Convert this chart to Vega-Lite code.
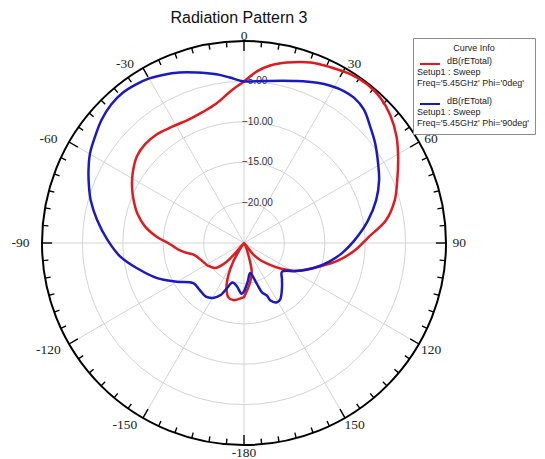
{
  "$schema": "https://vega.github.io/schema/vega-lite/v6.json",
  "width": 404,
  "height": 404,
  "autosize": {"type": "none"},
  "padding": {"left": 42, "top": 41, "right": 99, "bottom": 14},
  "background": "white",
  "config": {"view": {"stroke": null}, "font": "Liberation Sans"},
  "title": {
    "text": "Radiation Pattern 3",
    "frame": "group",
    "anchor": "middle",
    "offset": -10,
    "baseline": "alphabetic",
    "dx": -5,
    "font": "Liberation Sans",
    "fontSize": 16,
    "fontWeight": "normal",
    "color": "#111111"
  },
  "datasets": {
    "angles": [
      {"a": -180}, {"a": -150}, {"a": -120}, {"a": -90}, {"a": -60}, {"a": -30},
      {"a": 0}, {"a": 30}, {"a": 60}, {"a": 90}, {"a": 120}, {"a": 150}
    ],
    "rings": [{"db": -20}, {"db": -15}, {"db": -10}, {"db": -5}],
    "outer": [{"db": 0}],
    "ticks": [
      {"a": -175}, {"a": -170}, {"a": -165}, {"a": -160}, {"a": -155}, {"a": -150}, {"a": -145}, {"a": -140}, {"a": -135}, {"a": -130}, {"a": -125}, {"a": -120},
      {"a": -115}, {"a": -110}, {"a": -105}, {"a": -100}, {"a": -95}, {"a": -90}, {"a": -85}, {"a": -80}, {"a": -75}, {"a": -70}, {"a": -65}, {"a": -60},
      {"a": -55}, {"a": -50}, {"a": -45}, {"a": -40}, {"a": -35}, {"a": -30}, {"a": -25}, {"a": -20}, {"a": -15}, {"a": -10}, {"a": -5}, {"a": 0},
      {"a": 5}, {"a": 10}, {"a": 15}, {"a": 20}, {"a": 25}, {"a": 30}, {"a": 35}, {"a": 40}, {"a": 45}, {"a": 50}, {"a": 55}, {"a": 60},
      {"a": 65}, {"a": 70}, {"a": 75}, {"a": 80}, {"a": 85}, {"a": 90}, {"a": 95}, {"a": 100}, {"a": 105}, {"a": 110}, {"a": 115}, {"a": 120},
      {"a": 125}, {"a": 130}, {"a": 135}, {"a": 140}, {"a": 145}, {"a": 150}, {"a": 155}, {"a": 160}, {"a": 165}, {"a": 170}, {"a": 175}, {"a": 180}
    ],
    "curves": [
      {"cut": "p0", "a": -180, "db": -18.3}, {"cut": "p0", "a": -169, "db": -17.8}, {"cut": "p0", "a": -164, "db": -18.0},
      {"cut": "p0", "a": -159, "db": -18.95}, {"cut": "p0", "a": -154, "db": -20.6}, {"cut": "p0", "a": -150, "db": -22.3},
      {"cut": "p0", "a": -147, "db": -24.0}, {"cut": "p0", "a": -143, "db": -25.0}, {"cut": "p0", "a": -139, "db": -24.0},
      {"cut": "p0", "a": -137, "db": -21.8}, {"cut": "p0", "a": -131, "db": -20.3}, {"cut": "p0", "a": -125, "db": -19.9},
      {"cut": "p0", "a": -120.5, "db": -19.65}, {"cut": "p0", "a": -112, "db": -19.3}, {"cut": "p0", "a": -103, "db": -18.6},
      {"cut": "p0", "a": -99, "db": -17.6}, {"cut": "p0", "a": -96, "db": -16.9}, {"cut": "p0", "a": -93, "db": -16.3},
      {"cut": "p0", "a": -90, "db": -15.6}, {"cut": "p0", "a": -86, "db": -14.2}, {"cut": "p0", "a": -80.6, "db": -12.6},
      {"cut": "p0", "a": -74.5, "db": -11.3}, {"cut": "p0", "a": -68.8, "db": -10.35}, {"cut": "p0", "a": -63.4, "db": -9.5},
      {"cut": "p0", "a": -58, "db": -8.75}, {"cut": "p0", "a": -51, "db": -7.95}, {"cut": "p0", "a": -45, "db": -7.7},
      {"cut": "p0", "a": -39, "db": -7.75}, {"cut": "p0", "a": -31.4, "db": -8.1}, {"cut": "p0", "a": -23.7, "db": -8.25},
      {"cut": "p0", "a": -17.4, "db": -8.0}, {"cut": "p0", "a": -11.2, "db": -7.4}, {"cut": "p0", "a": -5.3, "db": -6.2},
      {"cut": "p0", "a": 0, "db": -5.0}, {"cut": "p0", "a": 4.3, "db": -3.7}, {"cut": "p0", "a": 8.4, "db": -2.8},
      {"cut": "p0", "a": 13.4, "db": -2.05}, {"cut": "p0", "a": 20.2, "db": -1.2}, {"cut": "p0", "a": 26.2, "db": -0.75},
      {"cut": "p0", "a": 32.2, "db": -0.3}, {"cut": "p0", "a": 37.8, "db": -0.15}, {"cut": "p0", "a": 43.2, "db": -0.35},
      {"cut": "p0", "a": 48.8, "db": -0.95}, {"cut": "p0", "a": 55.2, "db": -2.0}, {"cut": "p0", "a": 60.8, "db": -3.15},
      {"cut": "p0", "a": 67.7, "db": -4.5}, {"cut": "p0", "a": 74.1, "db": -5.6}, {"cut": "p0", "a": 80.9, "db": -7.2},
      {"cut": "p0", "a": 87.1, "db": -9.5}, {"cut": "p0", "a": 90, "db": -10.3}, {"cut": "p0", "a": 93.6, "db": -11.2},
      {"cut": "p0", "a": 100, "db": -13.0}, {"cut": "p0", "a": 107.3, "db": -15.2}, {"cut": "p0", "a": 117.7, "db": -17.6},
      {"cut": "p0", "a": 125, "db": -19.5}, {"cut": "p0", "a": 130, "db": -20.8}, {"cut": "p0", "a": 137, "db": -22.2},
      {"cut": "p0", "a": 141, "db": -23.2}, {"cut": "p0", "a": 147, "db": -25.0}, {"cut": "p0", "a": 153, "db": -24.6},
      {"cut": "p0", "a": 160, "db": -23.4}, {"cut": "p0", "a": 165, "db": -21.3}, {"cut": "p0", "a": 171, "db": -20.1},
      {"cut": "p0", "a": 180, "db": -18.3},
      {"cut": "p90", "a": -180, "db": -19.0}, {"cut": "p90", "a": -177.4, "db": -18.7}, {"cut": "p90", "a": -170.3, "db": -19.6},
      {"cut": "p90", "a": -163.8, "db": -19.9}, {"cut": "p90", "a": -159.1, "db": -18.95}, {"cut": "p90", "a": -155.9, "db": -17.95},
      {"cut": "p90", "a": -150.6, "db": -17.2}, {"cut": "p90", "a": -144.6, "db": -16.85}, {"cut": "p90", "a": -136.9, "db": -17.0},
      {"cut": "p90", "a": -128.5, "db": -17.0}, {"cut": "p90", "a": -119.9, "db": -15.4}, {"cut": "p90", "a": -112, "db": -13.4},
      {"cut": "p90", "a": -103.3, "db": -11.4}, {"cut": "p90", "a": -96.3, "db": -9.6}, {"cut": "p90", "a": -88.7, "db": -8.1},
      {"cut": "p90", "a": -81.1, "db": -6.6}, {"cut": "p90", "a": -74.4, "db": -5.3}, {"cut": "p90", "a": -70.1, "db": -4.6},
      {"cut": "p90", "a": -64.9, "db": -3.75}, {"cut": "p90", "a": -59.8, "db": -2.95}, {"cut": "p90", "a": -54.5, "db": -2.35},
      {"cut": "p90", "a": -49.2, "db": -1.7}, {"cut": "p90", "a": -43.8, "db": -1.25}, {"cut": "p90", "a": -38.9, "db": -1.1},
      {"cut": "p90", "a": -34.2, "db": -1.25}, {"cut": "p90", "a": -29.9, "db": -1.5}, {"cut": "p90", "a": -25.8, "db": -1.9},
      {"cut": "p90", "a": -20.7, "db": -2.45}, {"cut": "p90", "a": -15.6, "db": -3.1}, {"cut": "p90", "a": -9.3, "db": -3.85},
      {"cut": "p90", "a": -4.9, "db": -4.45}, {"cut": "p90", "a": 0, "db": -5.0}, {"cut": "p90", "a": 6.9, "db": -4.8},
      {"cut": "p90", "a": 18.2, "db": -3.9}, {"cut": "p90", "a": 24.6, "db": -3.2}, {"cut": "p90", "a": 28.8, "db": -2.8},
      {"cut": "p90", "a": 33.3, "db": -2.5}, {"cut": "p90", "a": 37.1, "db": -2.45}, {"cut": "p90", "a": 41.9, "db": -2.8},
      {"cut": "p90", "a": 47.3, "db": -3.75}, {"cut": "p90", "a": 52.7, "db": -4.6}, {"cut": "p90", "a": 59.3, "db": -5.7},
      {"cut": "p90", "a": 65, "db": -6.55}, {"cut": "p90", "a": 72, "db": -7.8}, {"cut": "p90", "a": 80.2, "db": -9.5},
      {"cut": "p90", "a": 88.5, "db": -11.3}, {"cut": "p90", "a": 95.9, "db": -12.8}, {"cut": "p90", "a": 102.3, "db": -14.2},
      {"cut": "p90", "a": 110.1, "db": -15.9}, {"cut": "p90", "a": 118, "db": -17.6}, {"cut": "p90", "a": 127.1, "db": -19.1},
      {"cut": "p90", "a": 133.7, "db": -18.5}, {"cut": "p90", "a": 139.2, "db": -17.8}, {"cut": "p90", "a": 147.3, "db": -16.7},
      {"cut": "p90", "a": 150.9, "db": -16.6}, {"cut": "p90", "a": 155.5, "db": -17.2}, {"cut": "p90", "a": 156.4, "db": -17.9},
      {"cut": "p90", "a": 160, "db": -18.5}, {"cut": "p90", "a": 162.5, "db": -19.7}, {"cut": "p90", "a": 168.5, "db": -21.2},
      {"cut": "p90", "a": 174, "db": -20.3}, {"cut": "p90", "a": 178.7, "db": -19.3}, {"cut": "p90", "a": 180, "db": -19.0}
    ]
  },
  "layer": [
    {
      "data": {"name": "rings"},
      "transform": [
        {"calculate": "(datum.db + 25) / 25", "as": "rn"},
        {"calculate": "datum.rn * datum.rn", "as": "s"},
        {"calculate": "0", "as": "z"}
      ],
      "mark": {"type": "point", "shape": "circle", "filled": false, "stroke": "#d4d4d4", "strokeWidth": 1, "opacity": 1},
      "encoding": {
        "x": {"field": "z", "type": "quantitative", "scale": {"domain": [-1, 1], "nice": false, "zero": false}, "axis": null},
        "y": {"field": "z", "type": "quantitative", "scale": {"domain": [-1, 1], "nice": false, "zero": false}, "axis": null},
        "size": {"field": "s", "type": "quantitative", "scale": {"type": "linear", "domain": [0, 1], "range": [0, 163216], "zero": false, "nice": false}, "legend": null}
      }
    },
    {
      "data": {"name": "angles"},
      "transform": [
        {"filter": "datum.a >= 0"},
        {"calculate": "sin(datum.a * PI / 180)", "as": "sx"},
        {"calculate": "cos(datum.a * PI / 180)", "as": "sy"},
        {"calculate": "-datum.sx", "as": "nx"},
        {"calculate": "-datum.sy", "as": "ny"}
      ],
      "mark": {"type": "rule", "stroke": "#d4d4d4", "strokeWidth": 1},
      "encoding": {
        "x": {"field": "sx", "type": "quantitative", "scale": {"domain": [-1, 1], "nice": false, "zero": false}, "axis": null},
        "y": {"field": "sy", "type": "quantitative", "scale": {"domain": [-1, 1], "nice": false, "zero": false}, "axis": null},
        "x2": {"field": "nx"},
        "y2": {"field": "ny"}
      }
    },
    {
      "data": {"name": "rings"},
      "transform": [
        {"calculate": "(datum.db + 25) / 25", "as": "ry"},
        {"calculate": "0", "as": "z"}
      ],
      "mark": {"type": "text", "align": "left", "baseline": "middle", "dx": -2, "font": "Liberation Sans", "fontSize": 10, "color": "#333333"},
      "encoding": {
        "x": {"field": "z", "type": "quantitative", "scale": {"domain": [-1, 1], "nice": false, "zero": false}, "axis": null},
        "y": {"field": "ry", "type": "quantitative", "scale": {"domain": [-1, 1], "nice": false, "zero": false}, "axis": null},
        "text": {"field": "db", "type": "quantitative", "format": ".2f"}
      }
    },
    {
      "data": {"name": "outer"},
      "transform": [
        {"calculate": "(datum.db + 25) / 25", "as": "rn"},
        {"calculate": "datum.rn * datum.rn", "as": "s"},
        {"calculate": "0", "as": "z"}
      ],
      "mark": {"type": "point", "shape": "circle", "filled": false, "stroke": "#000000", "strokeWidth": 2, "opacity": 1},
      "encoding": {
        "x": {"field": "z", "type": "quantitative", "scale": {"domain": [-1, 1], "nice": false, "zero": false}, "axis": null},
        "y": {"field": "z", "type": "quantitative", "scale": {"domain": [-1, 1], "nice": false, "zero": false}, "axis": null},
        "size": {"field": "s", "type": "quantitative", "scale": {"type": "linear", "domain": [0, 1], "range": [0, 163216], "zero": false, "nice": false}, "legend": null}
      }
    },
    {
      "data": {"name": "ticks"},
      "transform": [
        {"calculate": "datum.a % 30 == 0 ? 0.95 : 0.972", "as": "ri"},
        {"calculate": "sin(datum.a * PI / 180)", "as": "cx"},
        {"calculate": "cos(datum.a * PI / 180)", "as": "cy"},
        {"calculate": "datum.ri * datum.cx", "as": "ix"},
        {"calculate": "datum.ri * datum.cy", "as": "iy"}
      ],
      "mark": {"type": "rule", "stroke": "#000000", "strokeWidth": 1.4},
      "encoding": {
        "x": {"field": "ix", "type": "quantitative", "scale": {"domain": [-1, 1], "nice": false, "zero": false}, "axis": null},
        "y": {"field": "iy", "type": "quantitative", "scale": {"domain": [-1, 1], "nice": false, "zero": false}, "axis": null},
        "x2": {"field": "cx"},
        "y2": {"field": "cy"}
      }
    },
    {
      "data": {"name": "angles"},
      "transform": [
        {"calculate": "sin(datum.a * PI / 180)", "as": "sa"},
        {"calculate": "cos(datum.a * PI / 180)", "as": "ca"},
        {"calculate": "1.035 * datum.sa + (datum.sa > 0.01 ? 0.03 : datum.sa < -0.01 ? -0.072 : 0)", "as": "lx"},
        {"calculate": "1.025 * datum.ca - (datum.ca < -0.01 ? 0.015 : 0)", "as": "ly"}
      ],
      "mark": {"type": "text", "align": "center", "baseline": "middle", "font": "Liberation Serif", "fontSize": 13.5, "color": "#222222"},
      "encoding": {
        "x": {"field": "lx", "type": "quantitative", "scale": {"domain": [-1, 1], "nice": false, "zero": false}, "axis": null},
        "y": {"field": "ly", "type": "quantitative", "scale": {"domain": [-1, 1], "nice": false, "zero": false}, "axis": null},
        "text": {"field": "a", "type": "nominal"}
      }
    },
    {
      "data": {"name": "curves"},
      "transform": [
        {"calculate": "max(0, (datum.db + 25) / 25)", "as": "rn"},
        {"calculate": "datum.rn * sin(datum.a * PI / 180)", "as": "px"},
        {"calculate": "datum.rn * cos(datum.a * PI / 180)", "as": "py"}
      ],
      "mark": {"type": "line", "strokeWidth": 2.5, "interpolate": "catmull-rom", "strokeCap": "round", "strokeJoin": "round"},
      "encoding": {
        "x": {"field": "px", "type": "quantitative", "scale": {"domain": [-1, 1], "nice": false, "zero": false}, "axis": null},
        "y": {"field": "py", "type": "quantitative", "scale": {"domain": [-1, 1], "nice": false, "zero": false}, "axis": null},
        "order": {"field": "a", "type": "quantitative"},
        "color": {
          "field": "cut",
          "type": "nominal",
          "scale": {"domain": ["p0", "p90"], "range": ["#e01a1f", "#1a1ac4"]},
          "legend": {
            "title": "Curve Info",
            "orient": "none",
            "legendX": 371,
            "legendY": -3,
            "direction": "vertical",
            "strokeColor": "#8c8c8c",
            "fillColor": "#ffffff",
            "padding": 6,
            "titleFont": "Liberation Sans",
            "titleFontSize": 9,
            "titleFontWeight": "normal",
            "titleColor": "#222222",
            "titleAnchor": "middle",
            "titlePadding": 0,
            "labelFont": "Liberation Sans",
            "labelFontSize": 9,
            "labelColor": "#222222",
            "labelBaseline": "alphabetic",
            "labelOffset": -24,
            "labelLimit": 400,
            "symbolType": "stroke",
            "symbolStrokeWidth": 2,
            "symbolSize": 400,
            "rowPadding": 5,
            "labelExpr": "datum.value == 'p0' ? ['\u200b\u00a0\u00a0\u00a0\u00a0\u00a0\u00a0\u00a0\u00a0\u00a0\u00a0\u00a0\u00a0dB(rETotal)', 'Setup1 : Sweep', \"Freq='5.45GHz' Phi='0deg'\"] : ['\u200b\u00a0\u00a0\u00a0\u00a0\u00a0\u00a0\u00a0\u00a0\u00a0\u00a0\u00a0\u00a0dB(rETotal)', 'Setup1 : Sweep', \"Freq='5.45GHz' Phi='90deg'\"]"
          }
        }
      }
    }
  ]
}
